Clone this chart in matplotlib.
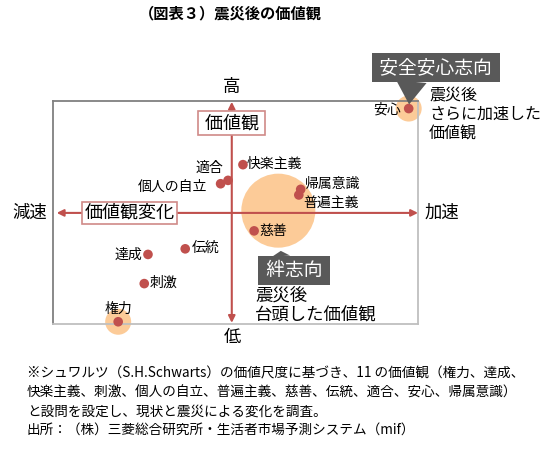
import matplotlib.pyplot as plt

plt.rcParams['font.family'] = ['Noto Sans CJK JP', 'DejaVu Sans']

# values: x = change after the quake (減速..加速), y = level (低..高)
names = ['権力', '達成', '快楽主義', '刺激', '個人の自立', '普遍主義',
         '慈善', '伝統', '適合', '安心', '帰属意識']
change = [-6.1, -4.5, 0.6, -4.7, -0.6, 3.6, 1.2, -2.5, -0.2, 9.5, 3.7]
level = [-9.7, -3.7, 4.3, -6.3, 2.6, 1.6, -1.6, -3.2, 2.9, 9.3, 2.1]

# highlighted groups (centre of each circle)
kizuna_x, kizuna_y = 2.5, 0.2

footnote = [
    '※シュワルツ（S.H.Schwarts）の価値尺度に基づき、11 の価値観（権力、達成、',
    '快楽主義、刺激、個人の自立、普遍主義、慈善、伝統、適合、安心、帰属意識）',
    'と設問を設定し、現状と震災による変化を調査。',
    '出所：（株）三菱総合研究所・生活者市場予測システム（mif）',
]

# label placement: (dx, dy) in points, horizontal alignment
label_pos = {
    '権力': (0, 9.6, 'center'),
    '達成': (-4.3, 0, 'right'),
    '快楽主義': (2.5, 0.5, 'left'),
    '刺激': (3.6, 0.5, 'left'),
    '個人の自立': (-9.4, -2, 'right'),
    '普遍主義': (3, -5.5, 'left'),
    '慈善': (4, 0, 'left'),
    '伝統': (4.5, 0.5, 'left'),
    '適合': (-3.4, 9, 'right'),
    '安心': (-5.5, -1, 'right'),
    '帰属意識': (3, 4, 'left'),
}

red = '#c0504d'
orange = '#fccb98'
W, H = 550, 455

fig = plt.figure(figsize=(5.5, 4.55), dpi=100)


def ftext(x, y, s, **kw):
    # place free text in pixel positions measured from the top-left corner
    return fig.text(x / W, 1 - y / H, s, **kw)


ax = fig.add_axes([53 / W, 1 - 324 / H, 365 / W, 223.3 / H])
ax.set_xlim(-9.6, 10)
ax.set_ylim(-9.9, 10)
ax.set_xticks([])
ax.set_yticks([])
for side in ['top', 'left']:
    ax.spines[side].set_color('#808080')
for side in ['right', 'bottom']:
    ax.spines[side].set_color('#bfbfbf')
for s in ax.spines.values():
    s.set_linewidth(1.3)

# highlight circles
ax.scatter([kizuna_x], [kizuna_y], s=2840, color=orange, edgecolors='none', zorder=1)
i_an = names.index('安心')
i_ken = names.index('権力')
ax.scatter([change[i_an], change[i_ken]], [level[i_an], level[i_ken]],
           s=350, color=orange, edgecolors='none', zorder=1, clip_on=False)

# axis arrows
arr = dict(arrowstyle='<|-|>,head_length=0.5,head_width=0.25', color=red, lw=1.5,
           mutation_scale=8, shrinkA=0, shrinkB=0)
ax.annotate('', xy=(0, 9.9), xytext=(0, -9.8), arrowprops=arr, zorder=2)
ax.annotate('', xy=(10, 0), xytext=(-9.4, 0), arrowprops=arr, zorder=2)

# points
ax.scatter(change, level, s=48, color=red, edgecolors='none', zorder=3, clip_on=False)
for n, x, y in zip(names, change, level):
    dx, dy, ha = label_pos[n]
    ax.annotate(n, (x, y), xytext=(dx, dy), textcoords='offset points',
                ha=ha, va='center', fontsize=10, zorder=4)

# boxed axis titles
ax.text(0, 8.0, ' 価値観 ', ha='center', va='center', fontsize=13, zorder=5,
        bbox=dict(boxstyle='square,pad=0.15', fc='white', ec='#d08a88', lw=1.2))
ax.text(-5.5, 0, '価値観変化', ha='center', va='center', fontsize=13, zorder=5,
        bbox=dict(boxstyle='square,pad=0.12', fc='white', ec='#d08a88', lw=1.2))

# callouts
ax.annotate(' 安全安心志向 ', (change[i_an], level[i_an]), xytext=(19.6, 29.7),
            textcoords='offset points', ha='center', va='center', fontsize=13.5,
            color='white', zorder=6, annotation_clip=False,
            bbox=dict(boxstyle='square,pad=0.2', fc='#595959', ec='none'),
            arrowprops=dict(arrowstyle='wedge,tail_width=1.1', fc='#595959', ec='none',
                            mutation_scale=20, relpos=(0.3, 0), shrinkA=0, shrinkB=3))
ax.annotate(' 絆志向 ', (kizuna_x, kizuna_y), xytext=(11.5, -43),
            textcoords='offset points', ha='center', va='center', fontsize=13.5,
            color='white', zorder=6,
            bbox=dict(boxstyle='square,pad=0.2', fc='#595959', ec='none'),
            arrowprops=dict(arrowstyle='wedge,tail_width=0.65', fc='#595959', ec='none',
                            mutation_scale=20, relpos=(0.3, 1), shrinkA=0, shrinkB=29))

ftext(429, 86, '震災後\nさらに加速した\n価値観', fontsize=11.5, va='top', ha='left',
      linespacing=1.2)
ftext(255, 287, '震災後\n台頭した価値観', fontsize=12.5, va='top', ha='left',
      linespacing=1.05)

# axis end words
ftext(232, 87, '高', ha='center', va='center', fontsize=12.5)
ftext(232, 337, '低', ha='center', va='center', fontsize=12.5)
ftext(30, 213, '減速', ha='center', va='center', fontsize=12.5)
ftext(442, 213, '加速', ha='center', va='center', fontsize=12.5)

ftext(230, 13, '（図表３）震災後の価値観', ha='center', va='center', fontsize=11,
      fontweight='bold')

for k, line in enumerate(footnote):
    ftext(27, [373, 393, 412, 430][k], line, ha='left', va='center', fontsize=9.8)

fig.savefig('out.png', dpi=100)
